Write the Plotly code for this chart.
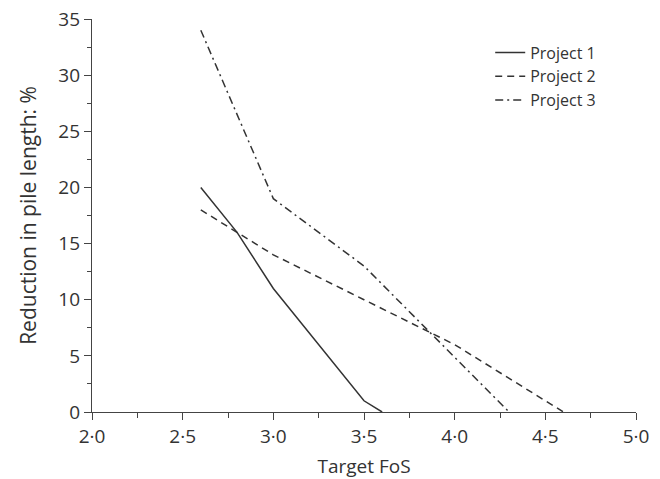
import plotly.graph_objects as go

p1_x = [2.6, 2.8, 3.0, 3.5, 3.6]
p1_y = [20, 16, 11, 1, 0]
p2_x = [2.6, 3.0, 3.5, 4.0, 4.6]
p2_y = [18, 14, 10, 6, 0]
p3_x = [2.6, 3.0, 3.5, 4.3]
p3_y = [34, 19, 13, 0]

x_tickvals = [2.0, 2.5, 3.0, 3.5, 4.0, 4.5, 5.0]
x_ticktext = ["2·0", "2·5", "3·0", "3·5", "4·0", "4·5", "5·0"]
y_tickvals = [0, 5, 10, 15, 20, 25, 30, 35]

line_col = "#333333"
font = "Open Sans, Noto Sans, sans-serif"

fig = go.Figure()
fig.add_trace(go.Scatter(x=p1_x, y=p1_y, mode="lines", name="Project 1",
                         line=dict(color=line_col, width=1.5, dash="solid")))
fig.add_trace(go.Scatter(x=p2_x, y=p2_y, mode="lines", name="Project 2",
                         line=dict(color=line_col, width=1.5, dash="7px,5px")))
fig.add_trace(go.Scatter(x=p3_x, y=p3_y, mode="lines", name="Project 3",
                         line=dict(color=line_col, width=1.5, dash="8px,4px,2px,4px")))

fig.update_layout(
    width=660, height=479,
    margin=dict(l=92, r=24, t=19, b=67),
    paper_bgcolor="white", plot_bgcolor="white",
    font=dict(family=font, size=17, color="#333333"),
    showlegend=True,
    legend=dict(x=0.732, y=0.958, xanchor="left", yanchor="top",
                bgcolor="rgba(0,0,0,0)", font=dict(size=16),
                tracegroupgap=0, itemwidth=30),
)
fig.update_xaxes(
    range=[2, 5], tickvals=x_tickvals, ticktext=x_ticktext, automargin=False,
    ticklabeloverflow="allow",
    showline=True, linecolor="#444444", linewidth=1.2, mirror=False,
    ticks="outside", ticklen=7, tickcolor="#444444", tickwidth=1.2,
    minor=dict(ticks="outside", ticklen=5, dtick=0.25, tick0=2, tickcolor="#444444", tickwidth=1.2),
    showgrid=False, zeroline=False,
    title=dict(text="Target FoS", font=dict(size=19), standoff=12),
    tickfont=dict(size=19),
)
fig.update_yaxes(
    range=[0, 35], tickvals=y_tickvals, automargin=False,
    ticklabeloverflow="allow",
    showline=True, linecolor="#444444", linewidth=1.2,
    ticks="outside", ticklen=7, tickcolor="#444444", tickwidth=1.2,
    minor=dict(ticks="outside", ticklen=4, dtick=2.5, tick0=0, tickcolor="#444444", tickwidth=1.2),
    showgrid=False, zeroline=False,
    title=dict(text="Reduction in pile length: %", font=dict(size=21), standoff=16),
    tickfont=dict(size=19),
)

fig.write_html("out.html", config={"displayModeBar": False},
               post_script="document.body.style.margin='0';")
